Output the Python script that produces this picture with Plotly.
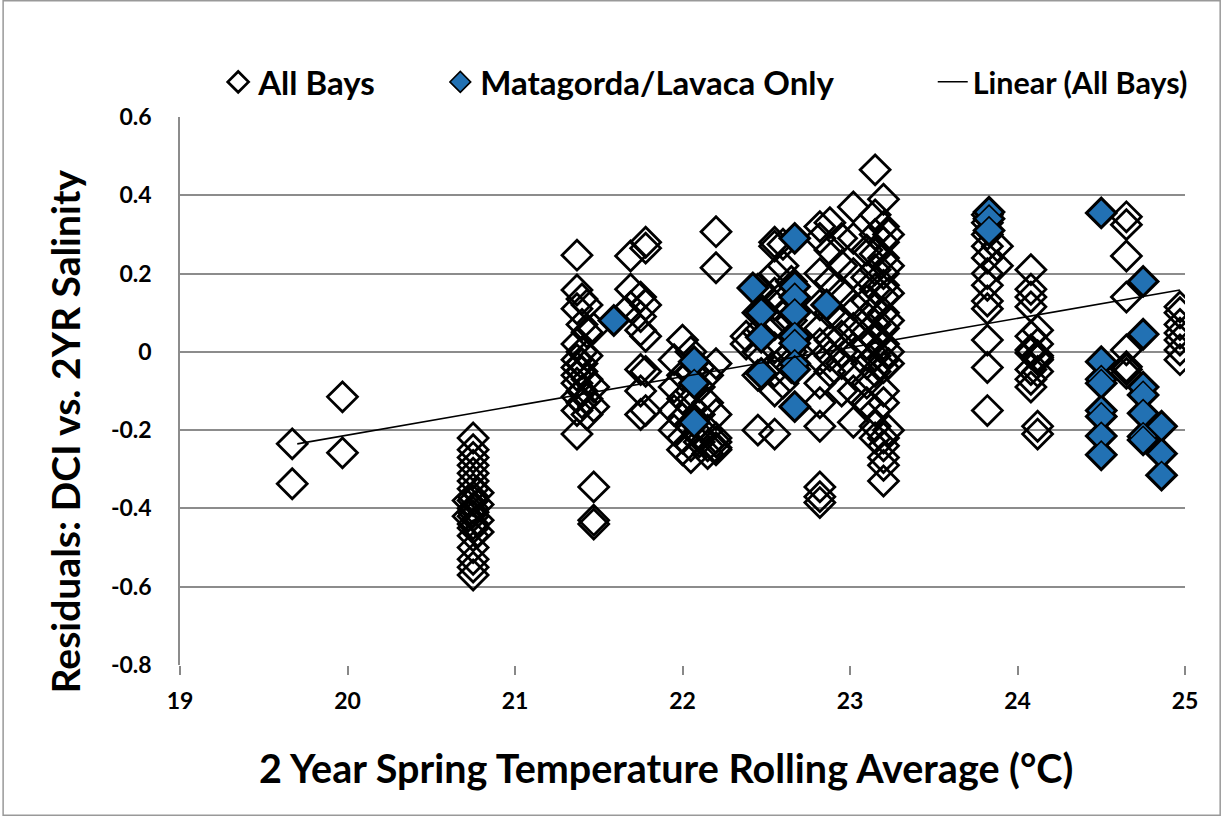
import plotly.graph_objects as go

# ---- Data ----
# "All Bays" open diamonds (points not belonging to Matagorda/Lavaca)
open_x = (
    [19.67, 19.67, 19.97, 19.97]
    + [20.75] * 19 + [20.78] * 4 + [20.72] * 2
    + [21.37] * 11 + [21.40] * 7 + [21.43] * 6 + [21.47] * 6
    + [21.69] * 3 + [21.75] * 6 + [21.78] * 6
    + [21.95] * 4 + [22.00] * 6 + [22.05] * 7 + [22.10] * 5 + [22.15] * 5 + [22.20] * 8
    + [22.38] * 2 + [22.45] * 6 + [22.55] * 10 + [22.60] * 6 + [22.65] * 4
    + [22.82] * 13 + [22.88] * 7 + [22.95] * 8 + [23.02] * 9
    + [23.10] * 9 + [23.15] * 14 + [23.20] * 19 + [23.23] * 7
    + [23.82] * 12 + [23.88] * 2
    + [24.08] * 10 + [24.12] * 8
    + [24.65] * 8
    + [24.97] * 7
)
open_y = (
    [-0.235, -0.337, -0.115, -0.258]
    + [-0.22, -0.25, -0.27, -0.29, -0.31, -0.33, -0.35, -0.37, -0.38, -0.40,
       -0.41, -0.42, -0.44, -0.45, -0.47, -0.50, -0.53, -0.55, -0.57]
    + [-0.36, -0.39, -0.43, -0.46]
    + [-0.38, -0.42]
    + [0.247, 0.158, 0.11, 0.02, -0.02, -0.04, -0.06, -0.08, -0.115, -0.15, -0.21]
    + [0.135, 0.07, 0.0, -0.03, -0.05, -0.10, -0.13]
    + [0.12, 0.05, -0.01, -0.07, -0.12, -0.16]
    + [0.06, -0.09, -0.14, -0.345, -0.43, -0.44]
    + [0.245, 0.16, 0.115]
    + [0.14, 0.09, 0.055, -0.045, -0.10, -0.16]
    + [0.28, 0.265, 0.12, 0.04, -0.05, -0.15]
    + [-0.02, -0.09, -0.15, -0.20]
    + [0.03, -0.06, -0.12, -0.17, -0.22, -0.25]
    + [0.0, -0.05, -0.10, -0.14, -0.19, -0.24, -0.27]
    + [-0.04, -0.09, -0.16, -0.21, -0.23]
    + [-0.06, -0.13, -0.20, -0.24, -0.26]
    + [0.307, 0.215, -0.03, -0.16, -0.22, -0.23, -0.245, -0.25]
    + [0.04, 0.02]
    + [0.16, 0.10, 0.05, 0.0, -0.06, -0.20]
    + [0.28, 0.27, 0.20, 0.15, 0.12, 0.07, 0.01, -0.05, -0.10, -0.21]
    + [0.275, 0.22, 0.13, 0.09, -0.02, -0.08]
    + [0.18, 0.08, 0.0, -0.04]
    + [0.32, 0.29, 0.20, 0.12, 0.06, 0.02, -0.02, -0.08, -0.13, -0.19, -0.345, -0.37, -0.385]
    + [0.33, 0.26, 0.18, 0.10, 0.03, -0.01, -0.05]
    + [0.29, 0.22, 0.15, 0.08, 0.04, 0.0, -0.03, -0.10]
    + [0.37, 0.29, 0.20, 0.12, 0.06, 0.01, -0.05, -0.10, -0.18]
    + [0.26, 0.19, 0.13, 0.09, 0.05, 0.02, -0.03, -0.08, -0.13]
    + [0.465, 0.35, 0.30, 0.25, 0.21, 0.16, 0.11, 0.07, 0.03, -0.01, -0.05, -0.15, -0.19, -0.22]
    + [0.39, 0.32, 0.28, 0.24, 0.20, 0.17, 0.14, 0.10, 0.06, 0.02, -0.02, -0.04,
       -0.10, -0.13, -0.22, -0.24, -0.27, -0.29, -0.33]
    + [0.30, 0.22, 0.15, 0.08, 0.0, -0.03, -0.20]
    + [0.35, 0.33, 0.30, 0.27, 0.24, 0.20, 0.17, 0.13, 0.11, 0.03, -0.04, -0.15]
    + [0.27, 0.22]
    + [0.21, 0.16, 0.14, 0.115, 0.04, 0.005, -0.003, -0.045, -0.07, -0.09]
    + [0.055, 0.02, -0.01, -0.015, -0.02, -0.05, -0.19, -0.21]
    + [0.345, 0.325, 0.245, 0.14, 0.005, -0.038, -0.045, -0.055]
    + [0.115, 0.10, 0.07, 0.048, 0.03, 0.005, -0.02]
)

# "Matagorda/Lavaca Only" filled blue diamonds
blue_x = (
    [21.59]
    + [22.07] * 3
    + [22.42] + [22.47] * 3
    + [22.67] * 9
    + [22.86]
    + [23.83] * 3
    + [24.50] * 8
    + [24.75] * 7
    + [24.86] * 3
)
blue_y = (
    [0.08]
    + [-0.025, -0.08, -0.18]
    + [0.163] + [0.10, 0.037, -0.055]
    + [0.29, 0.167, 0.14, 0.10, 0.04, 0.022, -0.03, -0.045, -0.14]
    + [0.12]
    + [0.357, 0.34, 0.31]
    + [0.355, -0.025, -0.07, -0.08, -0.15, -0.165, -0.215, -0.263]
    + [0.18, 0.045, -0.09, -0.11, -0.157, -0.216, -0.225]
    + [-0.19, -0.26, -0.315]
)

# Linear trend (All Bays) endpoints
trend_x = [19.70, 24.97]
trend_y = [-0.235, 0.158]

x_ticks = [19, 20, 21, 22, 23, 24, 25]
y_ticks = [-0.8, -0.6, -0.4, -0.2, 0, 0.2, 0.4, 0.6]
y_tick_text = ["-0.8", "-0.6", "-0.4", "-0.2", "0", "0.2", "0.4", "0.6"]

x_title = "2 Year Spring Temperature Rolling Average (°C)"
y_title = "Residuals: DCI vs. 2YR Salinity"

all_x = open_x + blue_x
all_y = open_y + blue_y

FONT = "Lato"
LEG_FONT = dict(family=FONT, size=33, weight="bold")
fig = go.Figure()

fig.add_trace(go.Scatter(
    x=all_x, y=all_y, mode="markers", name="All Bays", legend="legend",
    marker=dict(symbol="diamond-open", size=23, color="black",
                line=dict(width=2.8, color="black")),
))
fig.add_trace(go.Scatter(
    x=blue_x, y=blue_y, mode="markers", name="Matagorda/Lavaca Only", legend="legend2",
    marker=dict(symbol="diamond", size=21, color="#2271b3",
                line=dict(width=1.6, color="black")),
))
fig.add_trace(go.Scatter(
    x=trend_x, y=trend_y, mode="lines", name="Linear (All Bays)", legend="legend3",
    line=dict(color="black", width=1.6),
))

leg_common = dict(orientation="h", y=1.064, yanchor="middle", xanchor="left",
                  bgcolor="rgba(0,0,0,0)", itemwidth=30)

fig.update_layout(
    width=1223, height=818,
    paper_bgcolor="white", plot_bgcolor="white",
    margin=dict(l=180, r=38, t=117, b=153),
    font=dict(family=FONT, color="black", size=22, weight="bold"),
    showlegend=True,
    legend=dict(x=0.038, font=LEG_FONT, **leg_common),
    legend2=dict(x=0.259, font=LEG_FONT, **leg_common),
    legend3=dict(x=0.749, font=dict(family=FONT, size=30.5, weight="bold"), **leg_common),
    shapes=[dict(type="rect", xref="paper", yref="paper",
                 x0=-0.176, x1=1.035, y0=-0.274, y1=1.212,
                 line=dict(color="#999999", width=1.5), fillcolor="rgba(0,0,0,0)")],
    annotations=[
        dict(text=x_title, xref="paper", yref="paper", x=0.4836, y=-0.187,
             xanchor="center", yanchor="middle", showarrow=False,
             font=dict(family=FONT, size=39.5, weight="bold")),
        dict(text=y_title, xref="paper", yref="paper", x=-0.114, y=0.427,
             xanchor="center", yanchor="middle", showarrow=False, textangle=-90,
             font=dict(family=FONT, size=39, weight="bold")),
    ],
)

fig.update_xaxes(
    range=[19, 25], tickvals=x_ticks, ticktext=[str(v) for v in x_ticks],
    showgrid=False, zeroline=False, showline=False,
    ticks="outside", ticklen=9, tickwidth=1.5, tickcolor="#888888",
    ticklabelstandoff=6,
    tickfont=dict(family=FONT, size=23, weight="bold"),
)
fig.update_yaxes(
    range=[-0.8, 0.6], tickvals=y_ticks, ticktext=y_tick_text,
    showgrid=True, gridcolor="#8c8c8c", gridwidth=2,
    zeroline=False, showline=True, linecolor="#8c8c8c", linewidth=1.5,
    ticks="", ticklabelstandoff=22,
    tickfont=dict(family=FONT, size=23, weight="bold"),
)

fig.write_html("out.html", config={"displayModeBar": False},
               post_script="document.body.style.margin='0';")
